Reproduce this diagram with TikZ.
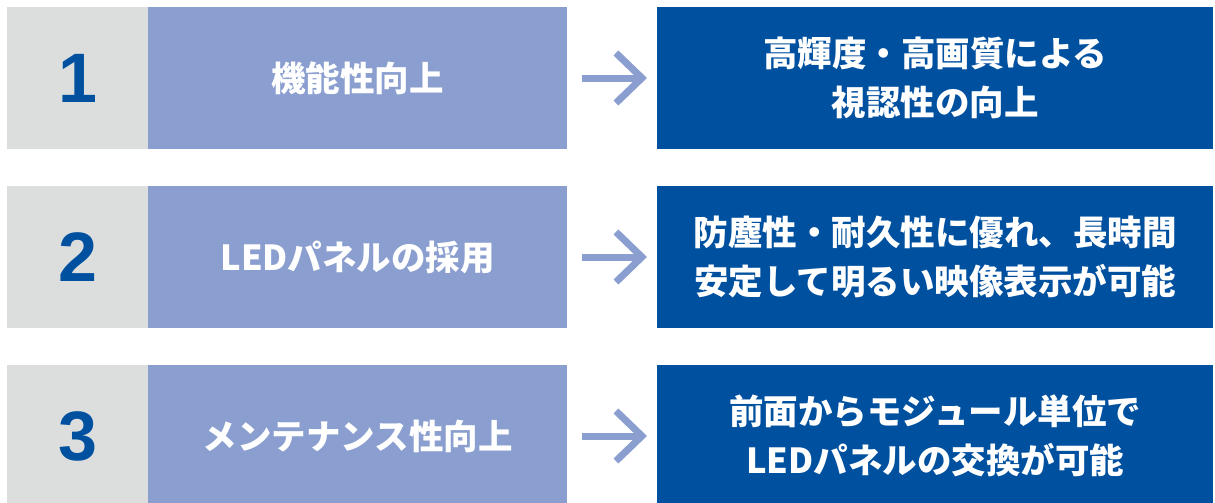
\documentclass[tikz,border=0pt]{standalone}
\usepackage{fontspec}
\usepackage{xcolor}
\usepackage{tikz}
\usetikzlibrary{arrows.meta}
\usetikzlibrary{positioning}
\newfontfamily\jpfont{Noto Sans CJK JP}
\newfontfamily\numfont{Liberation Sans}
\definecolor{numgray}{HTML}{DCDEDE}
\definecolor{midblue}{HTML}{8A9ECF}
\definecolor{deepblue}{HTML}{0050A0}
\begin{document}
\begin{tikzpicture}[
	x=1pt, y=-1pt,
	font=\jpfont\bfseries\fontsize{34.5}{49}\selectfont
]
\tikzset{
    myrect/.style = {rectangle, align=center, anchor=west, inner sep=0pt, minimum height=142pt},
    numrect/.style = {myrect, fill=numgray, minimum width=141pt, text=deepblue, font=\numfont\bfseries\fontsize{70}{70}\selectfont},
    midrect/.style = {myrect, fill=midblue, minimum width=419pt, text=white},
    outrect/.style = {myrect, fill=deepblue, minimum width=556pt, text=white},
    myarrow/.style = {draw=midblue, line width=7pt, shorten <=15pt, shorten >=10pt, -{Straight Barb[length=26pt,width=50pt]}}
}
\useasboundingbox (0,0) rectangle (1215,503);
% row 1
\node[numrect] (num1) at (7,78) {1};
\node[midrect] (mid1) at (148,78) {機能性向上};
\node[outrect] (out1) at (657,78) {高輝度・高画質による\\視認性の向上};
% row 2
\node[numrect] (num2) at (7,257) {2};
\node[midrect] (mid2) at (148,257) {LEDパネルの採用};
\node[outrect] (out2) at (657,257) {防塵性・耐久性に優れ、長時間\\安定して明るい映像表示が可能};
% row 3
\node[numrect] (num3) at (7,436) {3};
\node[midrect] (mid3) at (148,436) {メンテナンス性向上};
\node[outrect] (out3) at (657,436) {前面からモジュール単位で\\LEDパネルの交換が可能};
% arrows
\draw[myarrow] (mid1.east) -- (out1.west);
\draw[myarrow] (mid2.east) -- (out2.west);
\draw[myarrow] (mid3.east) -- (out3.west);
\end{tikzpicture}
\end{document}
